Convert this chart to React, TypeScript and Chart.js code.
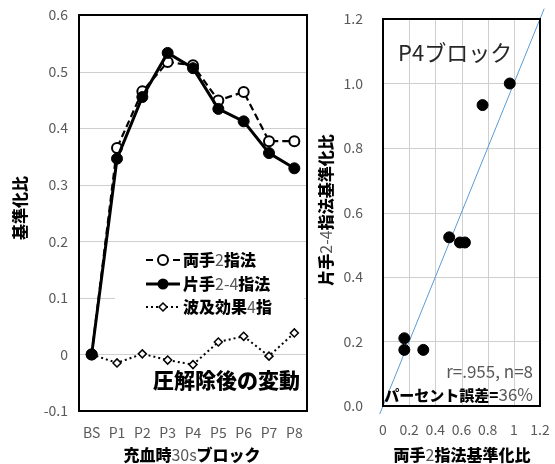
import React, { useEffect, useRef } from "react";
import { Chart, registerables } from "chart.js";
Chart.register(...registerables);

// ---------- data ----------
const categories = ["BS", "P1", "P2", "P3", "P4", "P5", "P6", "P7", "P8"];
const ryote2 = [0, 0.365, 0.465, 0.517, 0.511, 0.449, 0.464, 0.377, 0.377];
const katate24 = [0, 0.346, 0.455, 0.533, 0.506, 0.434, 0.412, 0.356, 0.329];
const hakyu4 = [0, -0.015, 0.001, -0.01, -0.018, 0.022, 0.032, -0.003, 0.038];
const leftYTicks = [-0.1, 0, 0.1, 0.2, 0.3, 0.4, 0.5, 0.6];

const scatterX = [0.163, 0.163, 0.308, 0.506, 0.588, 0.626, 0.761, 0.969];
const scatterY = [0.21, 0.174, 0.174, 0.523, 0.507, 0.507, 0.933, 1.0];
const identityEnds = [-0.025, 1.232];
const rightTicks = [0, 0.2, 0.4, 0.6, 0.8, 1.0, 1.2];

const FONT = '"Noto Sans CJK JP", "Noto Sans", sans-serif';
const GRAY = "#595959";
const GRID = "#cfcfcf";

type Run = { t: string; b?: boolean; c?: string; s?: number };

function runFont(r: Run, size: number) {
  return `${r.b ? "900" : "400"} ${r.s ?? size}px ${FONT}`;
}

function drawRuns(
  ctx: CanvasRenderingContext2D,
  runs: Run[],
  x: number,
  y: number,
  size: number,
  align: "left" | "center" | "right"
) {
  ctx.save();
  ctx.textBaseline = "middle";
  ctx.textAlign = "left";
  let total = 0;
  const widths = runs.map((r) => {
    ctx.font = runFont(r, size);
    const w = ctx.measureText(r.t).width;
    total += w;
    return w;
  });
  let cx = align === "left" ? x : align === "center" ? x - total / 2 : x - total;
  runs.forEach((r, i) => {
    ctx.font = runFont(r, size);
    ctx.fillStyle = r.c ?? (r.b ? "#000" : GRAY);
    ctx.fillText(r.t, cx, y);
    cx += widths[i];
  });
  ctx.restore();
}

function drawRotated(ctx: CanvasRenderingContext2D, runs: Run[], cx: number, cy: number, size: number) {
  ctx.save();
  ctx.translate(cx, cy);
  ctx.rotate(-Math.PI / 2);
  drawRuns(ctx, runs, 0, 0, size, "center");
  ctx.restore();
}

function drawFrame(ctx: CanvasRenderingContext2D, a: any) {
  ctx.save();
  ctx.strokeStyle = "#000";
  ctx.lineWidth = 2;
  ctx.setLineDash([]);
  ctx.beginPath();
  ctx.rect(Math.round(a.left), Math.round(a.top), Math.round(a.right - a.left), Math.round(a.bottom - a.top));
  ctx.stroke();
  ctx.restore();
}

function gridH(chart: any, values: number[]) {
  const ctx: CanvasRenderingContext2D = chart.ctx;
  const a = chart.chartArea;
  const ys = chart.scales.y;
  ctx.save();
  ctx.strokeStyle = GRID;
  ctx.lineWidth = 1;
  ctx.beginPath();
  values.forEach((v) => {
    const y = Math.round(ys.getPixelForValue(v)) + 0.5;
    ctx.moveTo(a.left, y);
    ctx.lineTo(a.right, y);
  });
  ctx.stroke();
  ctx.restore();
}

function gridV(chart: any, values: number[]) {
  const ctx: CanvasRenderingContext2D = chart.ctx;
  const a = chart.chartArea;
  const xs = chart.scales.x;
  ctx.save();
  ctx.strokeStyle = GRID;
  ctx.lineWidth = 1;
  ctx.beginPath();
  values.forEach((v) => {
    const x = Math.round(xs.getPixelForValue(v)) + 0.5;
    ctx.moveTo(x, a.top);
    ctx.lineTo(x, a.bottom);
  });
  ctx.stroke();
  ctx.restore();
}

const noScalePadding = (s: any) => {
  s.paddingLeft = 0;
  s.paddingRight = 0;
  s.paddingTop = 0;
  s.paddingBottom = 0;
};

const leftDecor = {
  id: "leftDecor",
  beforeDatasetsDraw(chart: any) {
    gridH(chart, leftYTicks);
  },
  afterDraw(chart: any) {
    const ctx: CanvasRenderingContext2D = chart.ctx;
    const a = chart.chartArea;
    ctx.save();
    ctx.fillStyle = "#fff";
    ctx.fillRect(115, 247, 189, 72);
    ctx.restore();
    const rows = [260, 284, 307];
    const lx0 = 146, lx1 = 180, mx = 163;
    ctx.save();
    ctx.strokeStyle = "#000";
    ctx.lineWidth = 2;
    ctx.beginPath();
    ctx.moveTo(lx0, rows[0]); ctx.lineTo(lx0 + 7, rows[0]);
    ctx.moveTo(lx1 - 7, rows[0]); ctx.lineTo(lx1, rows[0]);
    ctx.stroke();
    ctx.beginPath();
    ctx.arc(mx, rows[0], 5, 0, Math.PI * 2);
    ctx.fillStyle = "#fff";
    ctx.fill();
    ctx.stroke();
    ctx.lineWidth = 3;
    ctx.beginPath();
    ctx.moveTo(lx0, rows[1]); ctx.lineTo(lx1, rows[1]);
    ctx.stroke();
    ctx.beginPath();
    ctx.arc(mx, rows[1], 5.5, 0, Math.PI * 2);
    ctx.fillStyle = "#000";
    ctx.fill();
    ctx.lineWidth = 2;
    ctx.setLineDash([2, 3]);
    ctx.beginPath();
    ctx.moveTo(lx0, rows[2]); ctx.lineTo(lx1, rows[2]);
    ctx.stroke();
    ctx.setLineDash([]);
    ctx.lineWidth = 1.5;
    ctx.beginPath();
    ctx.moveTo(mx, rows[2] - 4); ctx.lineTo(mx + 4, rows[2]); ctx.lineTo(mx, rows[2] + 4); ctx.lineTo(mx - 4, rows[2]);
    ctx.closePath();
    ctx.fillStyle = "#fff";
    ctx.fill();
    ctx.stroke();
    ctx.restore();
    drawRuns(ctx, [{ t: "両手", b: true }, { t: "2" }, { t: "指法", b: true }], 183, rows[0], 16, "left");
    drawRuns(ctx, [{ t: "片手", b: true }, { t: "2-4" }, { t: "指法", b: true }], 183, rows[1], 16, "left");
    drawRuns(ctx, [{ t: "波及効果", b: true }, { t: "4" }, { t: "指", b: true }], 183, rows[2], 16, "left");
    drawRuns(ctx, [{ t: "圧解除後の変動", b: true, s: 21 }], 153, 380, 21, "left");
    drawFrame(ctx, a);
    drawRotated(ctx, [{ t: "基準化比", b: true }], 20, 208, 16);
    drawRuns(ctx, [{ t: "充血時", b: true }, { t: "30s" }, { t: "ブロック", b: true }], 192, 455, 16, "center");
  },
};

const rightDecor = {
  id: "rightDecor",
  beforeDatasetsDraw(chart: any) {
    gridH(chart, rightTicks);
    gridV(chart, rightTicks);
  },
  afterDraw(chart: any) {
    const ctx: CanvasRenderingContext2D = chart.ctx;
    const a = chart.chartArea;
    drawFrame(ctx, a);
    drawRuns(ctx, [{ t: "P4ブロック", c: "#262626" }], 83, 53, 22, "left");
    drawRuns(ctx, [{ t: "r=.955, n=8" }], 218, 372, 17, "right");
    drawRuns(
      ctx,
      [{ t: "パーセント誤差", b: true, s: 15 }, { t: "=", b: true, s: 15 }, { t: "36%", s: 17 }],
      218,
      395,
      15,
      "right"
    );
    drawRotated(ctx, [{ t: "片手", b: true }, { t: "2-4" }, { t: "指法基準化比", b: true }], 11, 210, 16);
    drawRuns(ctx, [{ t: "両手", b: true }, { t: "2" }, { t: "指法基準化比", b: true }], 147, 455, 16, "center");
  },
};

export default function App() {
  const leftRef = useRef<HTMLCanvasElement>(null);
  const rightRef = useRef<HTMLCanvasElement>(null);

  useEffect(() => {
    const tickFont = { family: FONT, size: 14 };
    const left = new Chart(leftRef.current!, {
      type: "line",
      data: {
        labels: categories,
        datasets: [
          {
            label: "片手2-4指法",
            data: katate24,
            borderColor: "#000",
            borderWidth: 3,
            pointRadius: 5.5,
            pointBackgroundColor: "#000",
            pointBorderColor: "#000",
            pointBorderWidth: 1,
            order: 0,
          },
          {
            label: "両手2指法",
            data: ryote2,
            borderColor: "#000",
            borderWidth: 2.2,
            borderDash: [7, 4],
            pointRadius: 5,
            pointBackgroundColor: "#fff",
            pointBorderColor: "#000",
            pointBorderWidth: 2,
            order: 1,
          },
          {
            label: "波及効果4指",
            data: hakyu4,
            borderColor: "#000",
            borderWidth: 2,
            borderDash: [2, 3],
            pointStyle: "rectRot",
            pointRadius: 4,
            pointBackgroundColor: "#fff",
            pointBorderColor: "#000",
            pointBorderWidth: 1.5,
            order: 2,
          },
        ],
      },
      options: {
        animation: false,
        responsive: false,
        devicePixelRatio: 1,
        layout: { padding: { top: 15, right: 8, left: 0, bottom: 0 } },
        plugins: { legend: { display: false }, tooltip: { enabled: false } },
        scales: {
          x: {
            type: "category",
            offset: true,
            grid: { display: false, drawTicks: false },
            border: { display: false },
            ticks: { color: GRAY, font: tickFont, padding: 13, maxRotation: 0, autoSkip: false },
            afterFit: (s: any) => { s.height = 53; noScalePadding(s); },
          },
          y: {
            min: -0.1,
            max: 0.6,
            grid: { display: false, drawTicks: false },
            border: { display: false },
            ticks: {
              stepSize: 0.1,
              color: GRAY,
              font: tickFont,
              padding: 11,
              callback: (v: any) => (Math.abs(v) < 1e-9 ? "0" : Number(v).toFixed(1)),
            },
            afterFit: (s: any) => { s.width = 79; noScalePadding(s); },
          },
        },
      },
      plugins: [leftDecor],
    } as any);

    const right = new Chart(rightRef.current!, {
      type: "scatter",
      data: {
        datasets: [
          {
            label: "points",
            data: scatterX.map((x, i) => ({ x, y: scatterY[i] })),
            pointRadius: 5.5,
            pointBackgroundColor: "#000",
            pointBorderColor: "#000",
            order: 0,
          },
          {
            type: "line",
            label: "y=x",
            data: identityEnds.map((v) => ({ x: v, y: v })),
            borderColor: "#5B9BD5",
            borderWidth: 1,
            pointRadius: 0,
            clip: false,
            order: 1,
          },
        ],
      },
      options: {
        animation: false,
        responsive: false,
        devicePixelRatio: 1,
        layout: { padding: { top: 19, right: 15, left: 0, bottom: 0 } },
        plugins: { legend: { display: false }, tooltip: { enabled: false } },
        scales: {
          x: {
            type: "linear",
            min: 0,
            max: 1.2,
            grid: { display: false, drawTicks: false },
            border: { display: false },
            ticks: {
              stepSize: 0.2,
              color: GRAY,
              font: tickFont,
              padding: 15,
              maxRotation: 0,
              autoSkip: false,
              callback: (v: any) => {
                const n = Math.round(Number(v) * 10) / 10;
                return Number.isInteger(n) ? String(n) : n.toFixed(1);
              },
            },
            afterFit: (s: any) => { s.height = 58; noScalePadding(s); },
          },
          y: {
            min: 0,
            max: 1.2,
            grid: { display: false, drawTicks: false },
            border: { display: false },
            ticks: {
              stepSize: 0.2,
              color: GRAY,
              font: tickFont,
              padding: 20,
              callback: (v: any) => Number(v).toFixed(1),
            },
            afterFit: (s: any) => { s.width = 68; noScalePadding(s); },
          },
        },
      },
      plugins: [rightDecor],
    } as any);

    return () => {
      left.destroy();
      right.destroy();
    };
  }, []);

  return (
    <div style={{ position: "absolute", left: 0, top: 0, width: 555, height: 464, background: "#fff" }}>
      <canvas ref={leftRef} width={315} height={464} style={{ position: "absolute", left: 0, top: 0 }} />
      <canvas ref={rightRef} width={240} height={464} style={{ position: "absolute", left: 315, top: 0 }} />
    </div>
  );
}
